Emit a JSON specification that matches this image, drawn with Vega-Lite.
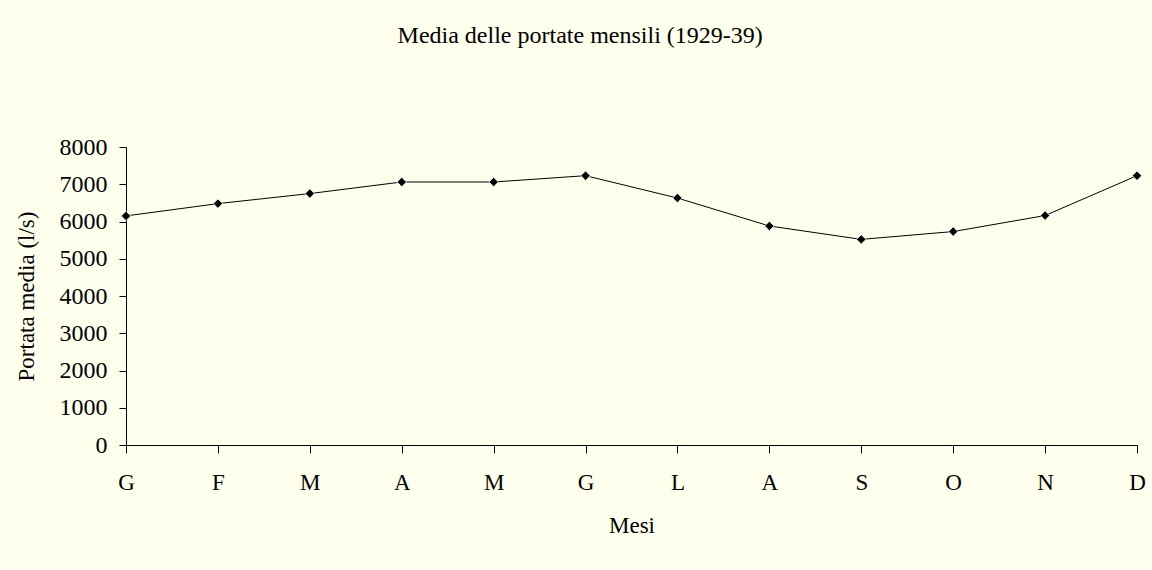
{
  "$schema": "https://vega.github.io/schema/vega-lite/v6.json",
  "autosize": {"type": "none"},
  "padding": {"left": 126, "top": 147, "right": 15, "bottom": 125},
  "width": 1011,
  "height": 298,
  "background": "#FFFFEE",
  "title": {
    "text": "Media delle portate mensili (1929-39)",
    "font": "Liberation Serif",
    "fontSize": 24,
    "fontWeight": "normal",
    "color": "#000000",
    "frame": "bounds",
    "anchor": "middle",
    "offset": 87
  },
  "config": {
    "view": {"stroke": null},
    "axis": {
      "labelFont": "Liberation Serif",
      "titleFont": "Liberation Serif",
      "labelFontSize": 23,
      "titleFontSize": 23,
      "titleFontWeight": "normal",
      "labelColor": "#000000",
      "titleColor": "#000000",
      "domainColor": "#000000",
      "tickColor": "#000000",
      "domainWidth": 1,
      "tickWidth": 1,
      "grid": false
    }
  },
  "data": {
    "values": [
      {"mese": "Gennaio", "portata": 6150},
      {"mese": "Febbraio", "portata": 6480},
      {"mese": "Marzo", "portata": 6750},
      {"mese": "Aprile", "portata": 7060},
      {"mese": "Maggio", "portata": 7060},
      {"mese": "Giugno", "portata": 7230},
      {"mese": "Luglio", "portata": 6630},
      {"mese": "Agosto", "portata": 5880},
      {"mese": "Settembre", "portata": 5520},
      {"mese": "Ottobre", "portata": 5730},
      {"mese": "Novembre", "portata": 6160},
      {"mese": "Dicembre", "portata": 7230}
    ]
  },
  "encoding": {
    "x": {
      "field": "mese",
      "type": "ordinal",
      "sort": null,
      "scale": {"type": "point", "padding": 0},
      "axis": {
        "title": "Mesi",
        "labelAngle": 0,
        "tickSize": 8,
        "labelPadding": 18,
        "titlePadding": 20,
        "labelExpr": "upper(substring(datum.label, 0, 1))"
      }
    },
    "y": {
      "field": "portata",
      "type": "quantitative",
      "scale": {"domain": [0, 8000], "nice": false},
      "axis": {
        "title": "Portata media (l/s)",
        "values": [0, 1000, 2000, 3000, 4000, 5000, 6000, 7000, 8000],
        "format": "d",
        "labelFontSize": 24,
        "tickSize": 7,
        "labelPadding": 12,
        "titlePadding": 21
      }
    }
  },
  "layer": [
    {"mark": {"type": "line", "color": "#000000", "strokeWidth": 1}},
    {"mark": {"type": "point", "shape": "diamond", "filled": true, "size": 90, "color": "#000000", "stroke": "#FFFFFF", "strokeWidth": 0.8, "opacity": 1}}
  ]
}
